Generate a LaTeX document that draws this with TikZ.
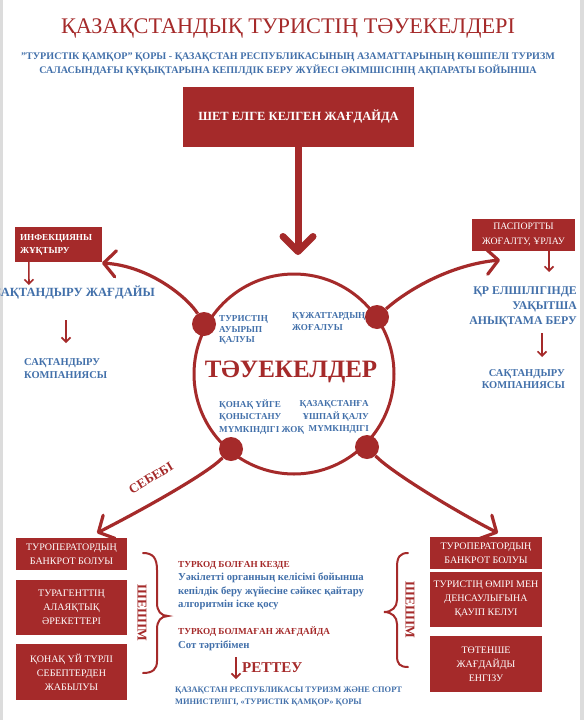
\documentclass[tikz,border=0pt]{standalone}
\usepackage{fontspec}
\setmainfont{Liberation Serif}
\usetikzlibrary{arrows.meta}
\definecolor{dred}{HTML}{A52A2A}
\definecolor{tblue}{HTML}{4270AA}
\definecolor{pagegray}{HTML}{DCDCDC}
\tikzset{
  redbox/.style={fill=dred, draw=none, text=white, align=center, inner sep=0pt},
  btxt/.style={text=tblue, inner sep=0pt},
  rtxt/.style={text=dred, inner sep=0pt},
  bigarrow/.style={draw=dred, line width=7pt, line cap=round, -{Straight Barb[length=15pt,width=30pt,line cap=round,round]}},
  curvearrow/.style={draw=dred, line width=3.2pt, -{Straight Barb[length=12pt,width=26pt,round]}},
  sarrow/.style={draw=dred, line width=1.6pt, -{Straight Barb[length=4.5pt,width=9pt]}},
  dotnode/.style={circle, fill=dred, draw=none, minimum size=24pt, inner sep=0pt},
  bracestyle/.style={draw=dred, line width=2pt, line cap=round}
}
\begin{document}
\begin{tikzpicture}[x=1pt,y=-1pt]
\useasboundingbox (0,0) rectangle (584,720);
\fill[pagegray] (0,0) rectangle (584,720);
\fill[white] (3,0) rectangle (580,720);

% title
\node[rtxt, font=\fontsize{22.3}{27}\selectfont] (title) at (288,28) {ҚАЗАҚСТАНДЫҚ ТУРИСТІҢ ТӘУЕКЕЛДЕРІ};
\node[btxt, align=center, font=\bfseries\fontsize{10.1}{14}\selectfont] (sub) at (288,64)
  {"ТУРИСТІК ҚАМҚОР" ҚОРЫ - ҚАЗАҚСТАН РЕСПУБЛИКАСЫНЫҢ АЗАМАТТАРЫНЫҢ КӨШПЕЛІ ТУРИЗМ\\
   САЛАСЫНДАҒЫ ҚҰҚЫҚТАРЫНА КЕПІЛДІК БЕРУ ЖҮЙЕСІ ӘКІМШІСІНІҢ АҚПАРАТЫ БОЙЫНША};

% top box and arrow
\node[redbox, minimum width=231pt, minimum height=60pt, font=\bfseries\fontsize{12.5}{15}\selectfont] (top) at (298.5,117) {ШЕТ ЕЛГЕ КЕЛГЕН ЖАҒДАЙДА};
\coordinate (bigtip) at (298,255);
\draw[bigarrow] (top.south -| bigtip) -- (bigtip);

% circle
\node[circle, draw=dred, line width=3pt, minimum size=200pt, inner sep=0pt] (risk) at (294,374) {};
\node[rtxt, font=\bfseries\fontsize{25}{28}\selectfont] (risklabel) at (291,372) {ТӘУЕКЕЛДЕР};
\node[btxt, anchor=west, align=left, font=\bfseries\fontsize{9.1}{10.5}\selectfont] (r1) at (219,330) {ТУРИСТІҢ\\АУЫРЫП\\ҚАЛУЫ};
\node[btxt, anchor=west, align=left, font=\bfseries\fontsize{9.1}{12}\selectfont] (r2) at (292,322) {ҚҰЖАТТАРДЫҢ\\ЖОҒАЛУЫ};
\node[btxt, anchor=west, align=left, font=\bfseries\fontsize{9.1}{12.5}\selectfont] (r3) at (219,417) {ҚОНАҚ ҮЙГЕ\\ҚОНЫСТАНУ\\МҮМКІНДІГІ ЖОҚ};
\node[btxt, anchor=east, align=right, font=\bfseries\fontsize{9.1}{12.5}\selectfont] (r4) at (369,417) {ҚАЗАҚСТАНҒА\\ҰШПАЙ ҚАЛУ\\МҮМКІНДІГІ};

% dots
\node[dotnode] (dTL) at (204,324) {};
\node[dotnode] (dTR) at (377,317) {};
\node[dotnode] (dBL) at (231,449) {};
\node[dotnode] (dBR) at (367,447) {};

% left branch
\node[redbox, minimum width=87pt, minimum height=35pt, text width=77pt, align=left, inner xsep=5pt, font=\bfseries\fontsize{9.2}{13}\selectfont] (inf) at (58.5,244.5) {ИНФЕКЦИЯНЫ\\ЖҰҚТЫРУ};
\coordinate (tipL) at (102,263);
\draw[curvearrow] (dTL) .. controls (188,298) and (150,266) .. (tipL);
\coordinate (a1e) at (29,285);
\draw[sarrow] ([xshift=14pt]inf.south west) -- (a1e);
\node[btxt, anchor=east, font=\bfseries\fontsize{12.5}{15}\selectfont] (sj) at (155,293) {САҚТАНДЫРУ ЖАҒДАЙЫ};
\coordinate (a2s) at (66,320);
\coordinate (a2e) at (66,343);
\draw[sarrow] (a2s) -- (a2e);
\node[btxt, anchor=west, align=left, font=\bfseries\fontsize{10.5}{13}\selectfont] (skL) at (24,368.5) {САҚТАНДЫРУ\\КОМПАНИЯСЫ};

% right branch
\node[redbox, minimum width=103pt, minimum height=32pt, font=\fontsize{9.8}{15}\selectfont] (pass) at (523.5,235) {ПАСПОРТТЫ\\ЖОҒАЛТУ, ҰРЛАУ};
\coordinate (tipR) at (500,260);
\draw[curvearrow] (dTR) .. controls (405,292) and (448,265) .. (tipR);
\coordinate (a3e) at (549,272);
\draw[sarrow] ([xshift=25.5pt]pass.south) -- (a3e);
\node[btxt, anchor=east, align=right, font=\bfseries\fontsize{11.8}{15}\selectfont] (emb) at (577,307) {ҚР ЕЛШІЛІГІНДЕ\\УАҚЫТША\\АНЫҚТАМА БЕРУ};
\coordinate (a4s) at (542,333);
\coordinate (a4e) at (542,357);
\draw[sarrow] (a4s) -- (a4e);
\node[btxt, anchor=east, align=right, font=\bfseries\fontsize{10.5}{12.5}\selectfont] (skR) at (565,379) {САҚТАНДЫРУ\\КОМПАНИЯСЫ};

% bottom arrows
\coordinate (tipBL) at (97,533);
\coordinate (tipBR) at (498,533);
\draw[curvearrow] (dBL) .. controls (207,474) and (140,511) .. (tipBL);
\draw[curvearrow] (dBR) .. controls (391,472) and (455,511) .. (tipBR);
\node[rtxt, rotate=31, font=\bfseries\fontsize{13}{15}\selectfont] (seb) at (151,478) {СЕБЕБІ};

% left boxes
\node[redbox, minimum width=111pt, minimum height=32pt, font=\fontsize{10}{14}\selectfont] (lb1) at (71.5,554) {ТУРОПЕРАТОРДЫҢ\\БАНКРОТ БОЛУЫ};
\node[redbox, minimum width=111pt, minimum height=55pt, font=\fontsize{10}{14}\selectfont] (lb2) at (71.5,607.5) {ТУРАГЕНТТІҢ\\АЛАЯҚТЫҚ\\ӘРЕКЕТТЕРІ};
\node[redbox, minimum width=111pt, minimum height=56pt, font=\fontsize{10}{14}\selectfont] (lb3) at (71.5,672) {ҚОНАҚ ҮЙ ТҮРЛІ\\СЕБЕПТЕРДЕН\\ЖАБЫЛУЫ};

% right boxes
\node[redbox, minimum width=112pt, minimum height=32pt, font=\fontsize{10}{14}\selectfont] (rb1) at (486,553) {ТУРОПЕРАТОРДЫҢ\\БАНКРОТ БОЛУЫ};
\node[redbox, minimum width=112pt, minimum height=55pt, font=\fontsize{10}{14}\selectfont] (rb2) at (486,599.5) {ТУРИСТІҢ ӨМІРІ МЕН\\ДЕНСАУЛЫҒЫНА\\ҚАУІП КЕЛУІ};
\node[redbox, minimum width=112pt, minimum height=56pt, font=\fontsize{10}{14}\selectfont] (rb3) at (486,664) {ТӨТЕНШЕ\\ЖАҒДАЙДЫ\\ЕНГІЗУ};

% braces
\draw[bracestyle] (143,553) .. controls (153,553) and (157,558) .. (157,570) -- (157,603)
  .. controls (157,611) and (161,616) .. (168,616)
  .. controls (161,616) and (157,621) .. (157,629) -- (157,661)
  .. controls (157,669) and (153,673) .. (143,673);
\draw[bracestyle] (408,553) .. controls (400,553) and (397,557) .. (397,567) -- (397,600)
  .. controls (397,607) and (392,612) .. (384,612)
  .. controls (392,612) and (397,617) .. (397,624) -- (397,656)
  .. controls (397,664) and (400,667) .. (408,667);
\node[rtxt, rotate=-90, font=\bfseries\fontsize{13.5}{15}\selectfont] (sh1) at (142,613) {ШЕШІМ};
\node[rtxt, rotate=-90, font=\bfseries\fontsize{13.5}{15}\selectfont] (sh2) at (410,610) {ШЕШІМ};

% middle text
\node[rtxt, anchor=west, font=\bfseries\fontsize{9.2}{12}\selectfont] (tk1) at (178,565) {ТУРКОД БОЛҒАН КЕЗДЕ};
\node[btxt, anchor=west, align=left, font=\bfseries\fontsize{10.7}{13.5}\selectfont] (tk1t) at (178,591.5) {Уәкілетті органның келісімі бойынша\\кепілдік беру жүйесіне сәйкес қайтару\\алгоритмін іске қосу};
\node[rtxt, anchor=west, font=\bfseries\fontsize{9.2}{12}\selectfont] (tk2) at (178,632) {ТУРКОД БОЛМАҒАН ЖАҒДАЙДА};
\node[btxt, anchor=west, font=\bfseries\fontsize{10.7}{13}\selectfont] (tk2t) at (178,646) {Сот тәртібімен};
\coordinate (rs) at (236,657);
\coordinate (re) at (236,679);
\draw[sarrow] (rs) -- (re);
\node[rtxt, anchor=west, font=\bfseries\fontsize{15}{18}\selectfont] (ret) at (242,668) {РЕТТЕУ};
\node[btxt, anchor=west, align=left, font=\bfseries\fontsize{8.4}{12}\selectfont] (min) at (175,697) {ҚАЗАҚСТАН РЕСПУБЛИКАСЫ ТУРИЗМ ЖӘНЕ СПОРТ\\МИНИСТРЛІГІ, «ТУРИСТІК ҚАМҚОР» ҚОРЫ};
\end{tikzpicture}
\end{document}
